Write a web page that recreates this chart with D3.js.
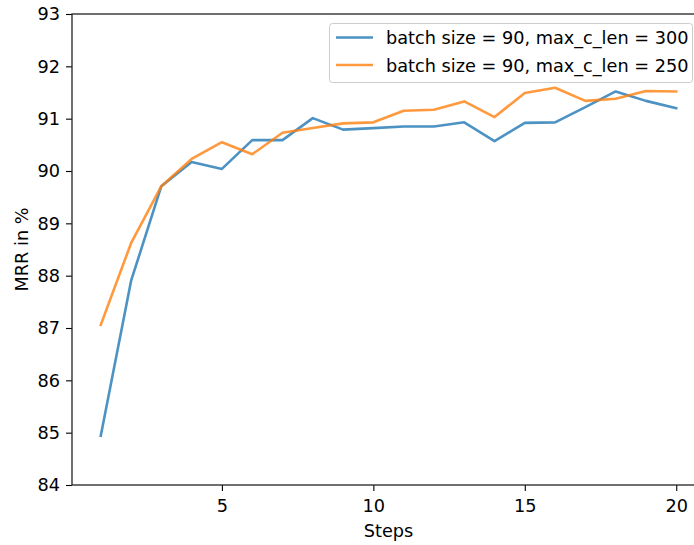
<!DOCTYPE html>
<html><head><meta charset="utf-8">
<script src="https://cdn.jsdelivr.net/npm/d3@7"></script>
<style>body{margin:0;background:#fff}svg{display:block;font-family:"DejaVu Sans",sans-serif}</style>
</head><body><svg id="c" width="694" height="545"></svg>
<script>
const steps = [1,2,3,4,5,6,7,8,9,10,11,12,13,14,15,16,17,18,19,20];
const mrr300 = [84.94,87.90,89.71,90.17,90.04,90.59,90.59,91.01,90.79,90.82,90.85,90.85,90.93,90.57,90.92,90.93,91.22,91.52,91.34,91.20];
const mrr250 = [87.06,88.62,89.71,90.23,90.55,90.32,90.73,90.82,90.91,90.93,91.15,91.17,91.33,91.03,91.49,91.59,91.34,91.38,91.53,91.52];
const seriesNames = ["batch size = 90, max_c_len = 300","batch size = 90, max_c_len = 250"];
const colors = ["rgba(31,119,180,0.8)","rgba(255,127,14,0.8)"];
const xTicks = [5,10,15,20];
const yTicks = [84,85,86,87,88,89,90,91,92,93];

const svg = d3.select("#c");
const L=72, T=14, R=705, B=485;
const x = d3.scaleLinear().domain([0.05,20.95]).range([L,R]);
const y = d3.scaleLinear().domain([84,93]).range([B,T]);
const fs = 17.7;

const line = d3.line().x((d,i)=>x(steps[i])).y(d=>y(d));
[mrr300, mrr250].forEach((s,k)=>{
  svg.append("path").datum(s).attr("d",line).attr("fill","none")
    .attr("stroke",colors[k]).attr("stroke-width",2.6).attr("stroke-linejoin","round").attr("stroke-linecap","square");
});

const xa = svg.append("g").attr("transform",`translate(0,${B})`)
  .call(d3.axisBottom(x).tickValues(xTicks).tickSize(6).tickPadding(8).tickFormat(d3.format("d")));
const ya = svg.append("g").attr("transform",`translate(${L},0)`)
  .call(d3.axisLeft(y).tickValues(yTicks).tickSize(6).tickPadding(6).tickFormat(d3.format("d")));
[xa,ya].forEach(a=>{
  a.select(".domain").remove();
  a.selectAll("line").attr("stroke","#000").attr("stroke-width",1.1);
  a.selectAll("text").attr("font-size",fs).attr("fill","#000").attr("font-family","DejaVu Sans");
});
// spines
svg.append("rect").attr("x",L).attr("y",T).attr("width",R-L).attr("height",B-T)
  .attr("fill","none").attr("stroke","#222").attr("stroke-width",1.3);

svg.append("text").attr("x",(L+R)/2).attr("y",537).attr("text-anchor","middle")
  .attr("font-size",fs).text("Steps");
svg.append("text").attr("transform",`translate(28,${(T+B)/2}) rotate(-90)`).attr("text-anchor","middle")
  .attr("font-size",fs).text("MRR in %");

// legend
const lg = svg.append("g");
lg.append("rect").attr("x",329.5).attr("y",23.5).attr("width",363).attr("height",59).attr("rx",3)
  .attr("fill","rgba(255,255,255,0.8)").attr("stroke","#ccc").attr("stroke-width",1);
seriesNames.forEach((n,k)=>{
  const yy = 37.5 + k*27.5;
  lg.append("line").attr("x1",336).attr("x2",373).attr("y1",yy).attr("y2",yy)
    .attr("stroke",colors[k]).attr("stroke-width",2.6);
  lg.append("text").attr("x",386).attr("y",yy+6.5).attr("font-size",fs).text(n);
});
</script></body></html>
